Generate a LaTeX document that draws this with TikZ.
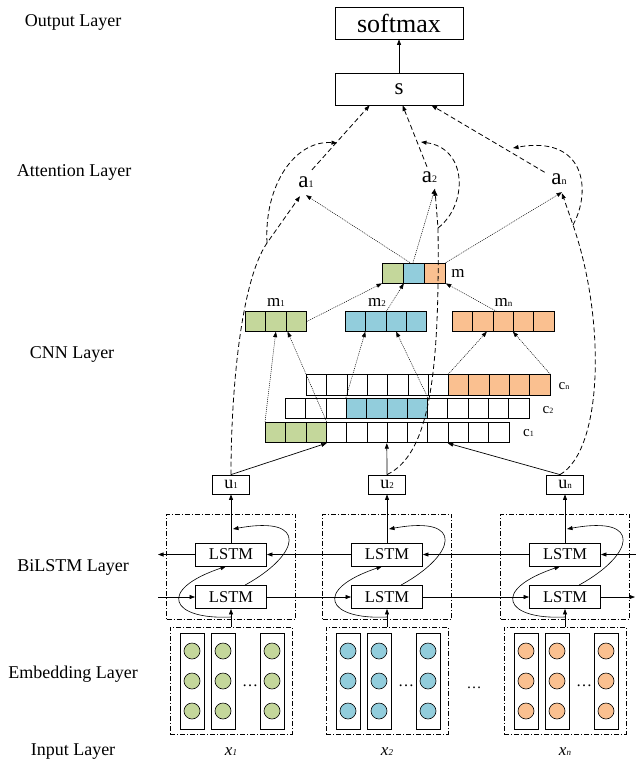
\documentclass[tikz,border=0pt]{standalone}
\usepackage{fontspec}
\setmainfont{Liberation Serif}
\usetikzlibrary{arrows.meta}
\definecolor{cgreen}{HTML}{C4D79B}
\definecolor{cblue}{HTML}{92CDDC}
\definecolor{corange}{HTML}{FAC090}
\newcommand\sbs[2][9]{{\fontsize{#1}{#1}\selectfont #2}}
\newcommand\fs[1]{\fontsize{#1}{#1}\selectfont}
\begin{document}
\begin{tikzpicture}[x=1pt,y=-1pt,
 >={Triangle[length=5.5pt,width=4pt]},
 lab/.style={font=\fs{18}},
 bx/.style={draw,line width=0.8pt,inner sep=0pt},
 cellc/.style={draw,line width=0.8pt,minimum width=20.3pt,minimum height=20.5pt,inner sep=0pt,anchor=west},
 cellm/.style={cellc,minimum width=21pt,minimum height=20pt},
 dd/.style={draw,line width=0.6pt,dash pattern=on 5pt off 2pt on 1pt off 2pt,inner sep=0pt},
 conn/.style={->,line width=0.7pt},
 dotc/.style={->,line width=0.5pt,dash pattern=on 1pt off 1pt},
 dashc/.style={->,line width=0.8pt,dash pattern=on 5pt off 3pt},
 lstm/.style={bx,minimum width=71pt,minimum height=23pt,font=\fs{16.5}},
 ubox/.style={bx,minimum width=37pt,minimum height=19pt,font=\fs{18}},
 vcol/.style={draw,line width=0.8pt,minimum width=24pt,minimum height=96pt,inner sep=0pt},
 neur/.style={circle,draw,line width=0.6pt,minimum size=16pt,inner sep=0pt},
 alab/.style={font=\fs{23},inner sep=1pt}
]
\useasboundingbox (0,0) rectangle (636,764);

% layer labels
\node[lab] (L-out) at (73,22) {Output Layer};
\node[lab] (L-att) at (74,172) {Attention Layer};
\node[lab] (L-cnn) at (72,354) {CNN Layer};
\node[lab] (L-bil) at (73,567) {BiLSTM Layer};
\node[lab] (L-emb) at (73,674) {Embedding Layer};
\node[lab] (L-inp) at (73,752) {Input Layer};

% output
\node[bx,minimum width=128pt,minimum height=32pt,font=\fs{26}] (sm) at (399,23) {softmax};
\node[bx,minimum width=128pt,minimum height=32pt,font=\fs{23}] (s) at (399,89) {s};
\draw[conn] (s.north) -- (sm.south);

% attention
\node[alab] (a1) at (306,182.5) {a\sbs[10]{1}};
\node[alab] (a2) at (429.5,177.5) {a\sbs[10]{2}};
\node[alab] (an) at (559,179) {a\sbs[10]{n}};

% CNN rows
\foreach \c [count=\i] in {cgreen,cgreen,cgreen,white,white,white,white,white,white,white,white,white}
  \node[cellc,fill=\c] (c1-\i) at ({265+20.3*(\i-1)},432.5) {};
\foreach \c [count=\i] in {white,white,white,cblue,cblue,cblue,cblue,white,white,white,white,white}
  \node[cellc,fill=\c] (c2-\i) at ({285+20.3*(\i-1)},408.5) {};
\foreach \c [count=\i] in {white,white,white,white,white,white,white,corange,corange,corange,corange,corange}
  \node[cellc,fill=\c] (cn-\i) at ({306+20.3*(\i-1)},385) {};
\node[font=\fs{15}] (lc1) at (528.5,433) {c\sbs[8]{1}};
\node[font=\fs{15}] (lc2) at (548,410) {c\sbs[8]{2}};
\node[font=\fs{15}] (lcn) at (564,386.5) {c\sbs[8]{n}};

\foreach \c [count=\i] in {cgreen,cgreen,cgreen}
  \node[cellc,minimum height=19.5pt,fill=\c] (m1-\i) at ({245+20.3*(\i-1)},321.5) {};
\foreach \c [count=\i] in {cblue,cblue,cblue,cblue}
  \node[cellc,minimum height=19.5pt,fill=\c] (m2-\i) at ({345+20.3*(\i-1)},321.5) {};
\foreach \c [count=\i] in {corange,corange,corange,corange,corange}
  \node[cellc,minimum height=19.5pt,fill=\c] (mn-\i) at ({452+20.3*(\i-1)},321.5) {};
\node[font=\fs{17}] (lm1) at (276,302) {m\sbs{1}};
\node[font=\fs{17}] (lm2) at (377,302) {m\sbs{2}};
\node[font=\fs{17}] (lmn) at (503.5,302) {m\sbs{n}};

\foreach \c [count=\i] in {cgreen,cblue,corange}
  \node[cellm,fill=\c] (m-\i) at ({382+21*(\i-1)},273) {};
\node[font=\fs{17}] (lm) at (458,273) {m};

% columns: BiLSTM, embedding, inputs
\foreach \cx/\k/\col in {231/1/cgreen,387/2/cblue,565/n/corange}{
  \node[dd,minimum width=129pt,minimum height=105pt] (bl-\k) at (\cx,566.5) {};
  \node[dd,minimum width=122pt,minimum height=107pt] (eb-\k) at (\cx,680.5) {};
  \foreach \o/\j in {-39/1,-8/2,41/3}{
    \node[vcol] (ev-\k-\j) at ({\cx+\o},681) {};
    \foreach \y/\r in {651/1,681/2,711/3}
      \node[neur,fill=\col] (nr-\k-\j-\r) at ({\cx+\o},\y) {};
  }
  \node[font=\fs{16},anchor=base,inner sep=0pt] (ed-\k) at ({\cx+19},686.5) {\dots};
  \node[lstm] (lt-\k) at (\cx,554.5) {LSTM};
  \node[lstm] (lb-\k) at (\cx,597) {LSTM};
  \node[ubox] (u\k) at (\cx,484.5) {u\sbs{\k}};
  \node[font=\fs{17}] (x\k) at (\cx,752) {\textit{x}\sbs{\textit{\k}}};
  \draw[conn] (eb-\k.north) -- (lb-\k.south);
  \draw[conn] (lt-\k.north) -- (u\k.south);
  \coordinate (lp-\k) at (\cx,617);
  \coordinate (lq-\k) at ({\cx+2},529);
  \draw[conn,line width=0.6pt] ([xshift=14pt]lb-\k.north) .. controls ({\cx+69},555) and ({\cx+79},515) .. (lq-\k);
  \draw[conn,line width=0.6pt] (lp-\k) .. controls ({\cx-60},620) and ({\cx-75},590) .. ([xshift=-5pt]lt-\k.south);
}
\node[font=\fs{15},anchor=base,inner sep=0pt] (edots) at (474,688) {\dots};

% horizontal LSTM connections
\coordinate (rin) at (636,554.5);
\coordinate (lout) at (158,554.5);
\coordinate (lin) at (158,597);
\coordinate (rout) at (635,597);
\draw[conn] (rin) -- (lt-n.east);
\draw[conn] (lt-n.west) -- (lt-2.east);
\draw[conn] (lt-2.west) -- (lt-1.east);
\draw[conn] (lt-1.west) -- (lout);
\draw[conn] (lin) -- (lb-1.west);
\draw[conn] (lb-1.east) -- (lb-2.west);
\draw[conn] (lb-2.east) -- (lb-n.west);
\draw[conn] (lb-n.east) -- (rout);

% u -> c1
\draw[conn] (u1.north) -- (c1-3.south east);
\draw[conn] (u2.north) -- (c1-7.south west);
\draw[conn] ([xshift=-5pt]un.north) -- (c1-10.south west);

% c -> m (dotted)
\draw[dotc] (c1-1.north west) -- (m1-2.south);
\draw[dotc] (c1-3.north east) -- ([xshift=2pt]m1-3.south west);
\draw[dotc] (c2-4.north west) -- (m2-2.south west);
\draw[dotc] (c2-7.north east) -- (m2-3.south);
\draw[dotc] (cn-8.north west) -- ([xshift=4pt]mn-2.south);
\draw[dotc] (cn-12.north east) -- (mn-4.south west);
\draw[dotc] (m1-3.east) -- (m-1.south west);
\draw[dotc] (m2-2.north east) -- (m-1.south east);
\draw[dotc] ([xshift=4pt]mn-3.north west) -- (m-3.south east);

% m -> a (dotted)
\draw[dotc] ([xshift=7pt]m-2.north west) -- ([yshift=-6pt]a1.south);
\draw[dotc] ([xshift=10pt]m-2.north west) -- ([xshift=5.5pt,yshift=-4.5pt]a2.south);
\draw[dotc] (m-3.north east) -- ([xshift=3pt,yshift=-6.5pt]an.south);

% a -> s (dashed)
\draw[dashc] ([xshift=6pt,yshift=6pt]a1.north) -- ([xshift=35pt]s.south west);
\draw[dashc] ([xshift=-2.5pt,yshift=4pt]a2.north) -- ([xshift=68pt]s.south west);
\draw[dashc] ([xshift=-5.5pt]an.north west) -- ([xshift=97pt]s.south west);

% u -> a (dashed) and weighting curves
\coordinate (j1) at (267,243);
\coordinate (k1) at (337,143);
\draw[dashc] (u1.north) .. controls (231,390) and (241,281) .. (j1) -- ([xshift=-6pt,yshift=-7pt]a1.south);
\draw[dashc] (j1) .. controls (264,185) and (295,140) .. (k1);
\coordinate (j2) at (438,228);
\coordinate (k2) at (421,142);
\draw[dashc] (u2.north) .. controls (428,455) and (440,380) .. (j2) -- ([xshift=5.5pt,yshift=-6pt]a2.south);
\draw[dashc] (j2) .. controls (468,205) and (468,148) .. (k2);
\coordinate (jn) at (573,225);
\coordinate (kn) at (513,148);
\draw[dashc] ([xshift=-5pt]un.north) .. controls (603,450) and (606,320) .. (jn) -- ([xshift=3pt,yshift=-7.5pt]an.south);
\draw[dashc] (jn) .. controls (592,190) and (585,135) .. (kn);
\end{tikzpicture}
\end{document}
